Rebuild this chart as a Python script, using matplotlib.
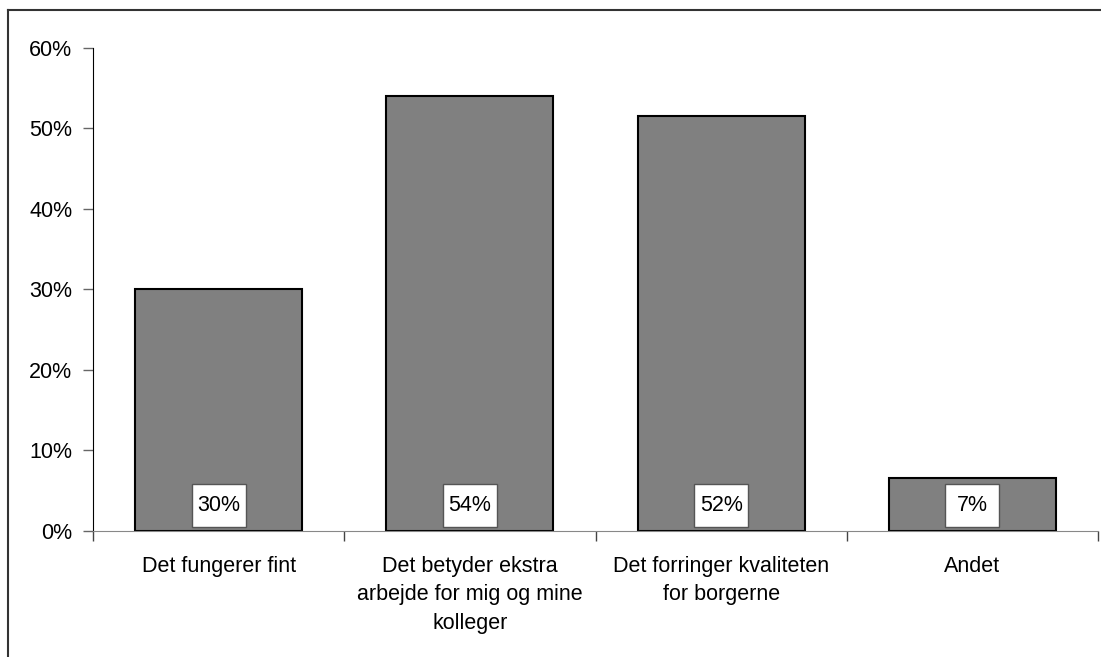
import matplotlib
matplotlib.use("Agg")
import matplotlib.pyplot as plt
from matplotlib.lines import Line2D
from matplotlib.patches import Rectangle

categories = [
    "Det fungerer fint",
    "Det betyder ekstra\narbejde for mig og mine\nkolleger",
    "Det forringer kvaliteten\nfor borgerne",
    "Andet",
]
values = [30.0, 54.0, 51.5, 6.5]
value_labels = ["30%", "54%", "52%", "7%"]
y_ticks = [0, 10, 20, 30, 40, 50, 60]

plt.rcParams["font.family"] = ["Liberation Sans", "DejaVu Sans"]

W, H = 1101, 657
fig = plt.figure(figsize=(W / 100, H / 100), dpi=100)
ax = fig.add_axes([93 / W, 1 - 530.7 / H, (1098 - 93) / W, (530.7 - 48) / H])

x = list(range(len(categories)))
ax.bar(x, values, width=0.665, color="#808080", edgecolor="black", linewidth=1.5, zorder=2)

# white value boxes sitting at the base of each bar
box_w, box_y0, box_y1 = 0.215, 0.45, 5.8
for xi, lab in zip(x, value_labels):
    ax.add_patch(Rectangle((xi - box_w / 2, box_y0), box_w, box_y1 - box_y0,
                           fc="white", ec="#555555", lw=1, zorder=3))
    ax.text(xi, (box_y0 + box_y1) / 2, lab, ha="center", va="center",
            fontsize=15.5, zorder=4)

ax.set_xlim(-0.5, len(categories) - 0.5)
ax.set_ylim(0, 60)
ax.set_yticks(y_ticks)
ax.set_yticklabels([f"{t}%" for t in y_ticks], fontsize=15.5)

ax.set_xticks([i - 0.5 for i in range(len(categories) + 1)])
ax.set_xticklabels([])
ax.set_xticks(x, minor=True)
ax.set_xticklabels(categories, minor=True, fontsize=15.5, linespacing=1.47)
ax.tick_params(axis="x", which="minor", length=0, pad=18)
ax.tick_params(axis="x", which="major", length=7, width=1, color="#444444", direction="out")
ax.tick_params(axis="y", length=7, width=1, color="#666666", pad=8)

for side in ("top", "right"):
    ax.spines[side].set_visible(False)
ax.spines["left"].set_color("black")
ax.spines["bottom"].set_color("#888888")

# outer chart frame, cut off on the right and bottom
fig.add_artist(Line2D([8 / W, 8 / W], [0, 1 - 10 / H], transform=fig.transFigure,
                      color="#333333", lw=1.5))
fig.add_artist(Line2D([8 / W, 1], [1 - 10 / H, 1 - 10 / H], transform=fig.transFigure,
                      color="#333333", lw=1.5))

fig.savefig("out.png", dpi=100)
